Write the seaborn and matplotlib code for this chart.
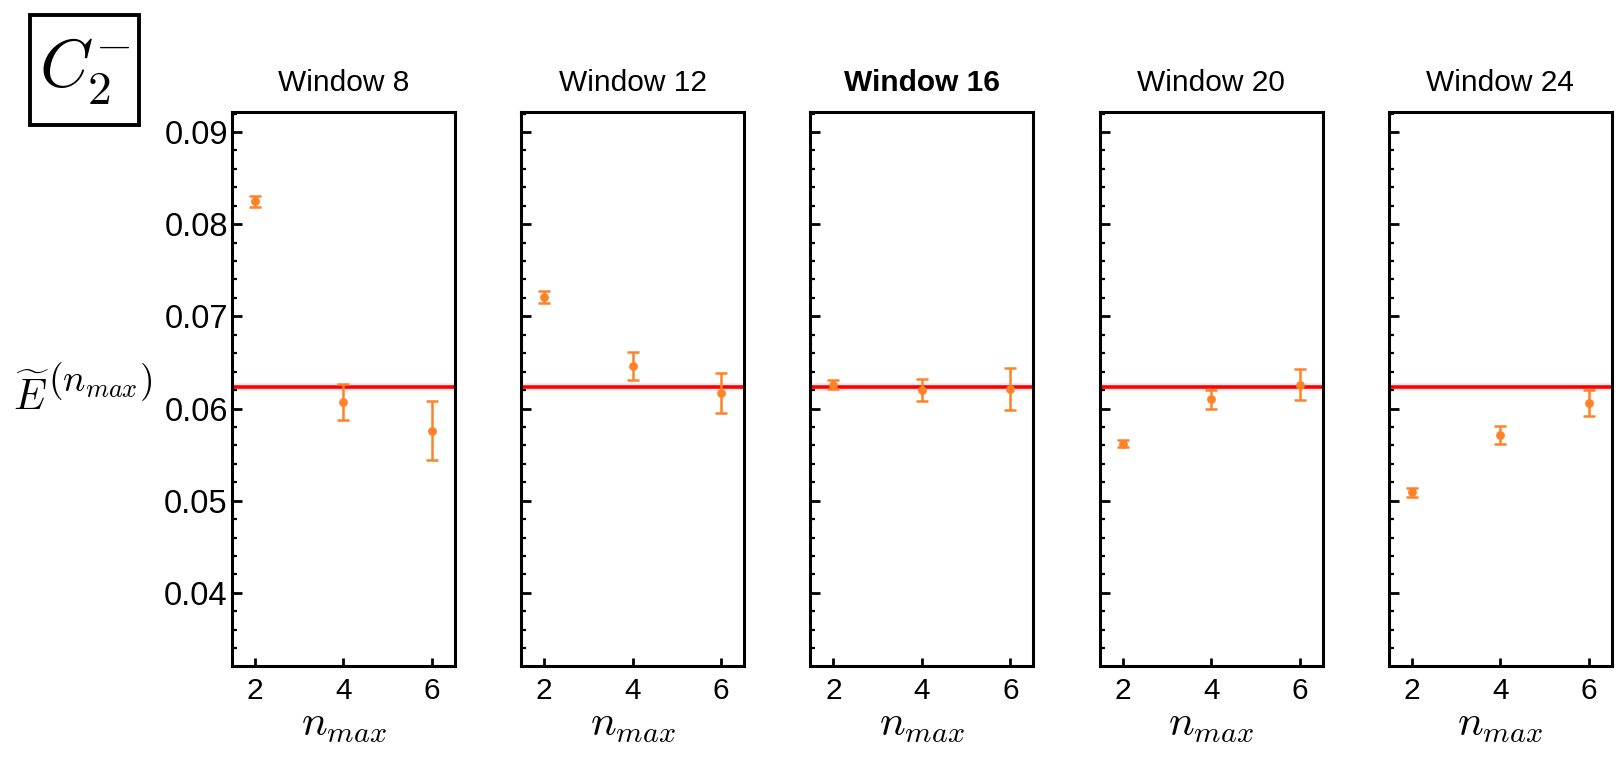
import numpy as np
import pandas as pd
import matplotlib
matplotlib.use("Agg")
import matplotlib.pyplot as plt
import seaborn as sns
from matplotlib.ticker import MultipleLocator, FixedLocator, FormatStrFormatter
from matplotlib.patches import Rectangle

# ---- data ----
windows = [8, 12, 16, 20, 24]
nmax = [2, 4, 6]
E_w8 = [0.0825, 0.0607, 0.0576]
err_w8 = [0.0006, 0.0020, 0.0032]
E_w12 = [0.0721, 0.0646, 0.0617]
err_w12 = [0.0006, 0.0015, 0.0022]
E_w16 = [0.0626, 0.0620, 0.0621]
err_w16 = [0.0005, 0.0012, 0.0023]
E_w20 = [0.0562, 0.0610, 0.0626]
err_w20 = [0.0004, 0.0010, 0.0017]
E_w24 = [0.0509, 0.0571, 0.0606]
err_w24 = [0.0005, 0.0010, 0.0014]
reference_value = 0.0623
titles = ["Window 8", "Window 12", "Window 16", "Window 20", "Window 24"]
highlight_window = 16

values = [E_w8, E_w12, E_w16, E_w20, E_w24]
errors = [err_w8, err_w12, err_w16, err_w20, err_w24]
rows = []
for w, vals, errs in zip(windows, values, errors):
    for n, v, e in zip(nmax, vals, errs):
        rows.append({"window": w, "nmax": n, "E": v, "err": e})
df = pd.DataFrame(rows)

sns.set_theme(style="ticks")
plt.rcParams["font.family"] = ["Liberation Sans", "DejaVu Sans"]
plt.rcParams["mathtext.fontset"] = "cm"
plt.rcParams["text.color"] = "black"
plt.rcParams["axes.labelcolor"] = "black"
plt.rcParams["xtick.color"] = "black"
plt.rcParams["ytick.color"] = "black"

orange = "#ff8226"

g = sns.FacetGrid(df, col="window", col_order=windows, sharey=True, sharex=True,
                  height=7.0, aspect=0.4, despine=False)


def draw(data, **kws):
    ax = plt.gca()
    ax.axhline(reference_value, color="red", lw=6, alpha=0.08, zorder=1)
    ax.axhline(reference_value, color="red", lw=2.6, zorder=2)
    ax.errorbar(data["nmax"], data["E"], yerr=data["err"], fmt="none",
                ecolor=orange, elinewidth=1.8, capsize=4.2, capthick=1.8, zorder=3)
    sns.scatterplot(data=data, x="nmax", y="E", color=orange, s=40,
                    edgecolor=orange, linewidth=0, ax=ax, zorder=4)


g.map_dataframe(draw)
fig = g.figure
fig.set_size_inches(16.2, 7.62)
fig.subplots_adjust(left=0.1432, right=0.995, bottom=0.1264, top=0.8534, wspace=0.297)

for i, ax in enumerate(g.axes.flat):
    ax.set_xlim(1.48, 6.52)
    ax.set_ylim(0.0321, 0.0922)
    ax.xaxis.set_major_locator(FixedLocator(nmax))
    ax.yaxis.set_major_locator(MultipleLocator(0.01))
    ax.yaxis.set_minor_locator(MultipleLocator(0.002))
    ax.tick_params(axis="both", which="both", direction="in", color="black",
                   labelcolor="black", top=False, right=False)
    ax.tick_params(axis="y", which="major", length=7, width=2)
    ax.tick_params(axis="y", which="minor", length=3.5, width=1.6)
    ax.tick_params(axis="x", which="major", length=6, width=2, labelsize=21.5, pad=8)
    ax.tick_params(axis="y", labelsize=23.5, pad=3)
    for sp in ax.spines.values():
        sp.set_linewidth(2.2)
        sp.set_color("black")
    ax.set_xlabel(r"$n_{max}$", fontsize=31, labelpad=0, color="black")
    ax.set_ylabel("")
    weight = "bold" if windows[i] == highlight_window else "normal"
    ax.set_title(titles[i], fontsize=21.5, fontweight=weight, pad=15, color="black")
    ax.grid(False)
    if i > 0:
        ax.tick_params(axis="y", labelleft=False)
    else:
        ax.yaxis.set_major_formatter(FormatStrFormatter("%.2f"))

# y-axis label (E tilde with large superscript)
fig.text(13 / 1620, 1 - 410 / 762, r"$\widetilde{E}$", fontsize=30,
         ha="left", va="baseline", color="black")
fig.text(48 / 1620, 1 - 391 / 762, r"$(n_{max})$", fontsize=27,
         ha="left", va="baseline", color="black")

# boxed channel label
fig.patches.append(Rectangle((30 / 1620, 1 - 125 / 762), 109 / 1620, 110 / 762,
                             transform=fig.transFigure, fill=False, lw=2.8,
                             edgecolor="black"))
fig.text(85 / 1620, 1 - 72 / 762, r"$C_2^{-}$", fontsize=49, ha="center",
         va="center", color="black")

fig.savefig("out.png", dpi=100)
